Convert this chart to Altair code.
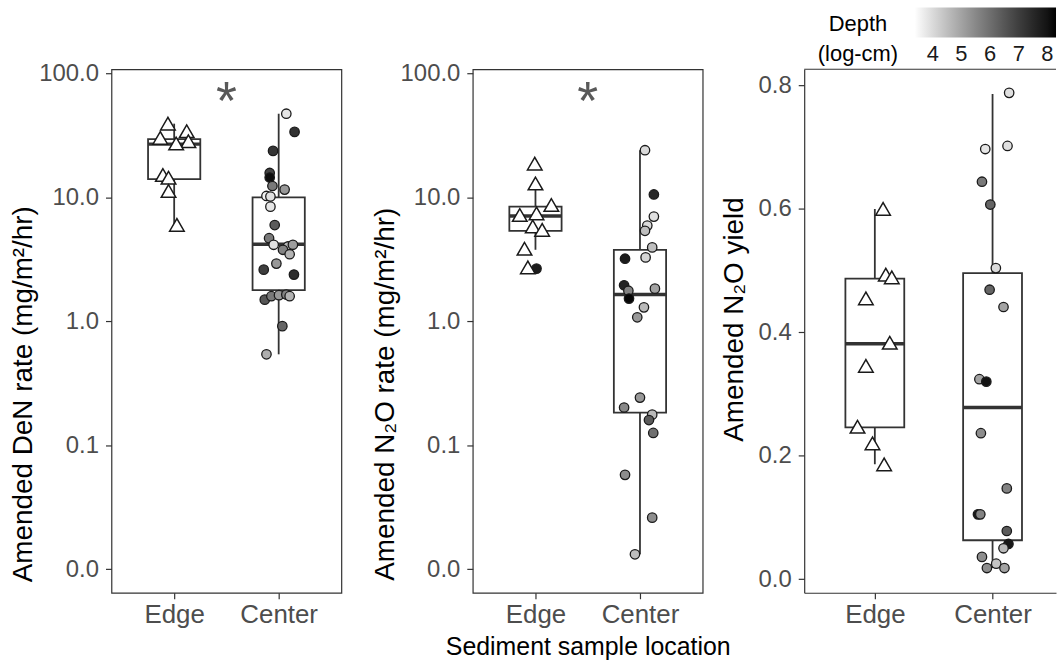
import altair as alt
import pandas as pd

GROUPS = ["Edge", "Center"]
DEPTH_TICKS = [4, 5, 6, 7, 8]
LOG_TICKS = [0.01, 0.1, 1, 10, 100]
YIELD_TICKS = [0.0, 0.2, 0.4, 0.6, 0.8]
LEGEND_TITLE = ["Depth", "(log-cm)"]

# ---------------- Panel 1: Amended DeN rate ----------------
den_edge_rate = [39.5, 34.3, 30.3, 28.5, 27.3, 15.2, 14.45, 11.3, 6.02]
den_edge_jitter = [-0.06, 0.12, -0.133, 0.136, 0.019, -0.108, -0.054, -0.054, 0.026]
den_center_rate = [47.5, 33.9, 23.8, 15.8, 14.5, 12.4, 11.6, 10.3, 10.2, 8.45, 6.0, 4.7,
                   4.16, 4.03, 4.16, 3.79, 3.49, 2.93, 2.62, 2.39, 1.50, 1.60, 1.63, 1.65,
                   1.60, 0.917, 0.543]
den_center_jitter = [0.073, 0.152, -0.054, -0.086, -0.086, -0.06, 0.057, -0.117, -0.079,
                     -0.079, -0.038, -0.092, -0.048, 0.089, 0.136, 0.041, 0.105, -0.022,
                     -0.143, 0.146, -0.133, -0.07, 0.003, 0.073, 0.105, 0.035, -0.117]
den_center_depth = [3.8, 7.3, 7.2, 6.9, 8.1, 5.8, 5.2, 3.6, 3.9, 3.8, 6.4, 5.8, 3.9, 4.6,
                    5.1, 5.6, 4.7, 5.2, 7.0, 7.4, 6.5, 5.8, 5.2, 5.6, 4.7, 6.2, 4.8]
den_box_lo = [6.02, 0.543]
den_box_q1 = [14.1, 1.79]
den_box_med = [27.0, 4.2]
den_box_q3 = [29.6, 10.04]
den_box_hi = [39.5, 47.5]

# ---------------- Panel 2: Amended N2O rate ----------------
n2o_edge_rate = [18.8, 13.0, 8.72, 7.24, 7.46, 5.84, 5.49, 3.86, 2.73]
n2o_edge_jitter = [-0.007, 0.0, 0.152, -0.15, 0.01, -0.026, 0.064, -0.105, -0.073]
n2o_edge_circle_rate = [2.67]
n2o_edge_circle_jitter = [0.01]
n2o_edge_circle_depth = [7.8]
n2o_center_rate = [24.1, 10.6, 7.02, 5.94, 5.39, 3.96, 3.21, 3.29, 1.96, 1.77, 1.53, 1.84,
                   1.30, 1.08, 0.243, 0.202, 0.177, 0.16, 0.126, 0.0578, 0.0261, 0.0132]
n2o_center_jitter = [0.048, 0.133, 0.133, 0.07, 0.048, 0.117, -0.143, 0.054, -0.152,
                     -0.111, -0.105, 0.143, 0.038, -0.026, 0.0, -0.152, 0.117, 0.086,
                     0.127, -0.143, 0.117, -0.048]
n2o_center_depth = [4.0, 7.5, 3.9, 4.0, 4.5, 4.5, 7.8, 4.1, 7.6, 5.6, 8.2, 5.0, 4.6, 5.2,
                    5.2, 5.5, 4.6, 6.4, 6.0, 5.4, 5.4, 4.5]
n2o_box_lo = [3.79, 0.0132]
n2o_box_q1 = [5.39, 0.184]
n2o_box_med = [7.11, 1.65]
n2o_box_q3 = [8.45, 3.79]
n2o_box_hi = [13.0, 24.1]

# ---------------- Panel 3: Amended N2O yield ----------------
yld_edge = [0.600, 0.4935, 0.489, 0.455, 0.383, 0.3456, 0.247, 0.220, 0.186]
yld_edge_jitter = [0.07, 0.093, 0.144, -0.076, 0.127, -0.076, -0.147, -0.02, 0.079]
yld_center = [0.788, 0.697, 0.702, 0.644, 0.607, 0.504, 0.469, 0.441, 0.324, 0.320,
              0.2365, 0.147, 0.105, 0.105, 0.078, 0.057, 0.050, 0.036, 0.018, 0.025, 0.018]
yld_center_jitter = [0.141, -0.062, 0.127, -0.09, -0.019, 0.028, -0.025, 0.093, -0.112,
                     -0.053, -0.099, 0.121, -0.124, -0.104, 0.121, 0.135, 0.093, -0.09,
                     -0.048, 0.031, 0.101]
yld_center_depth = [3.9, 3.8, 3.9, 5.8, 6.2, 4.0, 6.2, 5.0, 5.0, 8.0, 5.4, 5.6, 7.9, 5.6,
                    6.4, 7.9, 4.6, 5.4, 5.4, 4.4, 5.0]
yld_box_lo = [0.186, 0.018]
yld_box_q1 = [0.246, 0.063]
yld_box_med = [0.3816, 0.278]
yld_box_q3 = [0.487, 0.496]
yld_box_hi = [0.600, 0.786]

FONT = "Liberation Sans"
FRAME = "#333333"
H = 526


def pts(vals, jit, grp, depth=None):
    g = GROUPS.index(grp) + 1
    return pd.DataFrame({
        "x": [g + j for j in jit],
        "v": vals,
        "depth": depth if depth is not None else [None] * len(vals),
    })


def boxes(lo, q1, med, q3, hi):
    return pd.DataFrame({
        "g": [1, 2], "lo": lo, "q1": q1, "med": med, "q3": q3, "hi": hi,
    })


label_expr = " : ".join(
    [f"datum.value == {i + 1} ? '{n}'" for i, n in enumerate(GROUPS[:-1])] + [f"'{GROUPS[-1]}'"]
)


def panel(tri_df, circ_df, box_df, yscale, ytitle, yticks, width, xdomain, xtitle,
          star, legend, frame_full, title_pad, title_y):
    xscale = alt.Scale(domain=xdomain, nice=False, zero=False)
    xaxis = alt.Axis(values=[1, 2], labelExpr=label_expr, title=xtitle, grid=False,
                     labelFontSize=26, labelColor="#4d4d4d", labelFont=FONT,
                     tickColor=FRAME, tickSize=6, tickWidth=1.2, labelPadding=3,
                     domain=not frame_full, domainColor=FRAME, domainWidth=1.2,
                     titleFontSize=25, titleFont=FONT, titleFontWeight="normal",
                     titleColor="black", titlePadding=7)
    yaxis = alt.Axis(values=yticks, format=".1f", title=ytitle, grid=False,
                     labelFontSize=24, labelColor="#4d4d4d", labelFont=FONT,
                     tickColor=FRAME, tickSize=6, tickWidth=1.2, labelPadding=7,
                     domain=not frame_full, domainColor=FRAME, domainWidth=1.2,
                     titleFontSize=28, titleFont=FONT, titleFontWeight="normal",
                     titleColor="black", titlePadding=title_pad, titleY=title_y)

    bx = alt.Chart(box_df).transform_calculate(xl="datum.g - 0.25", xr="datum.g + 0.25")
    whisk = bx.mark_rule(color=FRAME, strokeWidth=1.8).encode(
        x=alt.X("g:Q", scale=xscale, axis=xaxis),
        y=alt.Y("lo:Q", scale=yscale, axis=yaxis),
        y2="hi:Q",
    )
    box = bx.mark_bar(fill="white", stroke=FRAME, strokeWidth=1.8).encode(
        x=alt.X("xl:Q", scale=xscale, axis=xaxis),
        x2="xr:Q",
        y=alt.Y("q1:Q", scale=yscale, axis=yaxis),
        y2="q3:Q",
    )
    med = bx.mark_rule(color=FRAME, strokeWidth=3.5).encode(
        x=alt.X("xl:Q", scale=xscale, axis=xaxis),
        x2="xr:Q",
        y=alt.Y("med:Q", scale=yscale, axis=yaxis),
    )
    fill_scale = alt.Scale(domain=[3.37, 8.3], range=["#ffffff", "#000000"], interpolate="lab")
    circ = alt.Chart(circ_df).mark_point(shape="circle", filled=True, size=90, opacity=1,
                                          stroke="#1a1a1a", strokeWidth=1.3).encode(
        x=alt.X("x:Q", scale=xscale, axis=xaxis),
        y=alt.Y("v:Q", scale=yscale, axis=yaxis),
        fill=alt.Fill("depth:Q", scale=fill_scale, legend=legend),
    )
    tri = alt.Chart(tri_df).mark_point(shape="triangle-up", filled=True, size=215, opacity=1,
                                        fill="white", stroke="#1a1a1a", strokeWidth=1.5).encode(
        x=alt.X("x:Q", scale=xscale, axis=xaxis),
        y=alt.Y("v:Q", scale=yscale, axis=yaxis),
    )
    layers = [whisk, box, med, circ, tri]
    if star:
        layers.append(
            alt.Chart(pd.DataFrame({"s": [star]})).mark_text(
                fontSize=54, color="#595959", font=FONT, baseline="alphabetic").encode(
                text="s:N", x=alt.datum(1.5), y=alt.value(50))
        )
    props = dict(width=width, height=H)
    if not frame_full:
        layers.append(
            alt.Chart(pd.DataFrame({"s": [0]})).mark_rule(color=FRAME, strokeWidth=1.2).encode(
                x=alt.value(0), x2=alt.value(width), y=alt.value(0))
        )
        props["view"] = alt.ViewBackground(stroke="transparent")
    if legend is not None:
        for line, ypix in zip(LEGEND_TITLE, [-45, -15]):
            layers.append(
                alt.Chart(pd.DataFrame({"t": [line]})).mark_text(
                    fontSize=22, font=FONT, color="black",
                    align="center", baseline="middle").encode(
                    text="t:N", x=alt.value(54), y=alt.value(ypix))
            )
    ch = alt.layer(*layers).properties(**props)
    return ch


log_scale = alt.Scale(type="log", domain=[0.00646, 108.6], nice=False)
lin_scale = alt.Scale(domain=[-0.0221, 0.8263], nice=False, zero=False)

p1 = panel(
    pts(den_edge_rate, den_edge_jitter, "Edge"),
    pts(den_center_rate, den_center_jitter, "Center", den_center_depth),
    boxes(den_box_lo, den_box_q1, den_box_med, den_box_q3, den_box_hi),
    log_scale, "Amended DeN rate (mg/m²/hr)", LOG_TICKS, 231, [0.4, 2.6], None,
    "*", None, True, 1, 326)

p2 = panel(
    pts(n2o_edge_rate, n2o_edge_jitter, "Edge"),
    pd.concat([pts(n2o_edge_circle_rate, n2o_edge_circle_jitter, "Edge", n2o_edge_circle_depth),
               pts(n2o_center_rate, n2o_center_jitter, "Center", n2o_center_depth)]),
    boxes(n2o_box_lo, n2o_box_q1, n2o_box_med, n2o_box_q3, n2o_box_hi),
    log_scale, "Amended N₂O rate (mg/m²/hr)", LOG_TICKS, 231, [0.4, 2.6],
    "Sediment sample location", "*", None, True, 1, 326)

depth_legend = alt.Legend(
    title=None, orient="none", direction="horizontal",
    legendX=111, legendY=-62,
    gradientLength=142, gradientThickness=30, gradientStrokeWidth=0,
    labelFontSize=22, labelFont=FONT, labelColor="#1a1a1a", values=DEPTH_TICKS,
    labelOffset=7, format="d")

p3 = panel(
    pts(yld_edge, yld_edge_jitter, "Edge"),
    pts(yld_center, yld_center_jitter, "Center", yld_center_depth),
    boxes(yld_box_lo, yld_box_q1, yld_box_med, yld_box_q3, yld_box_hi),
    lin_scale, "Amended N₂O yield", YIELD_TICKS, 253, [0.4, 2.539], None,
    None, depth_legend, False, 10, 251)

inner = alt.hconcat(p1, p2, spacing=28).resolve_scale(fill="independent")
chart = alt.hconcat(inner, p3, spacing=-12).resolve_scale(fill="independent").configure_view(
    stroke=FRAME, strokeWidth=1.2
).properties(padding={"left": 9, "top": 5, "right": 0, "bottom": 0}, background="white")

chart.save("out.html", embed_options={"renderer": "svg", "actions": False})
